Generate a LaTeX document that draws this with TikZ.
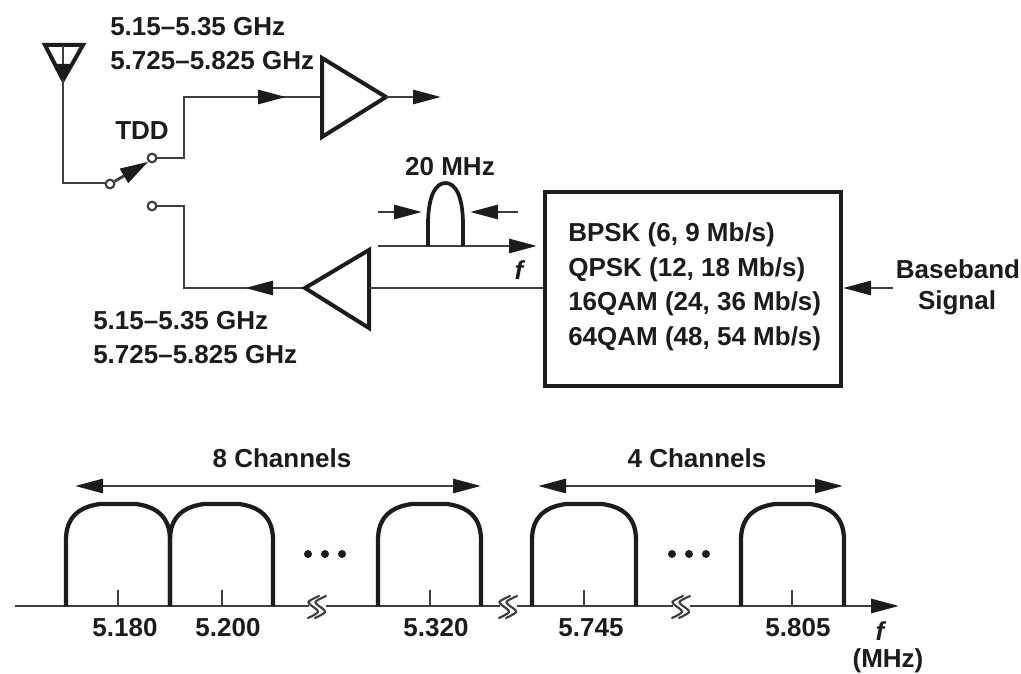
\documentclass[tikz,border=0pt]{standalone}
\usepackage{fontspec}
\setmainfont{Liberation Sans}
\usetikzlibrary{arrows.meta}
\definecolor{ink}{HTML}{1C1C1C}
\tikzset{
  thin line/.style={draw=ink!85,line width=2.2pt,line join=miter},
  thick line/.style={draw=ink,line width=3pt,line join=miter},
  hump/.style={draw=ink,line width=3.2pt},
  tip/.style={-{Triangle[length=21pt,width=10.5pt,fill=ink,color=ink]}},
  label/.style={font=\fontsize{19.5}{22}\bfseries\selectfont,text=ink,inner sep=0pt,anchor=center},
  llabel/.style={label,anchor=west},
  term/.style={circle,draw=ink!85,line width=1.6pt,fill=white,minimum size=6.5pt,inner sep=0pt},
  dot/.style={circle,fill=ink,minimum size=6pt,inner sep=0pt},
  pics/breakmark/.style={code={
    \fill[white] (-7,-3) rectangle (10,3);
    \foreach \d in {-3,4}{
      \draw[draw=ink!85,line width=1.6pt,line cap=round] plot[smooth,tension=0.6] coordinates {(\d+6,-10) (\d-3,-5.5) (\d-4,-2.5) (\d+3,3) (\d+5,6) (\d+1,9) (\d-5,12)};
    }
  }}
}
\newcommand{\humpshape}[4]{% left, right, name
  \coordinate (#3a) at (#1,606);
  \coordinate (#3b) at (#2,606);
  \draw[hump] (#3a) -- (#1,540) .. controls (#1,518) and (#1+12,507) .. (#1+34,504)
     -- (#2-34,504) .. controls (#2-12,507) and (#2,518) .. (#2,540) -- (#3b);
  \coordinate (#3t) at (#4,590);
  \coordinate (#3u) at (#4,606);
  \draw[thin line,line width=1.5pt] (#3t) -- (#3u);
}
\begin{document}
\begin{tikzpicture}[x=0.75pt,y=-0.75pt]
\useasboundingbox (0,0) rectangle (1021,674);
% antenna
\coordinate (antL) at (45,45);
\coordinate (antR) at (83,45);
\coordinate (antA) at (63,80);
\coordinate (antT) at (63,45);
\coordinate (corner) at (63,183);
\draw[thick line] (antL) -- (antR) -- (antA) -- cycle;
\draw[thin line,line join=miter] (antT) -- (corner) -- (107,183);
\fill[ink] (55,64) -- (71,64) -- (63,80) -- cycle;
% switch
\node[term] (sw) at (110,184) {};
\node[term] (tx) at (152,158) {};
\node[term] (rx) at (152,206) {};
\draw[thin line,-{Triangle[length=21pt,width=12pt,fill=ink,color=ink]}] (sw) -- (tx.south west);
\node[label] (tdd) at (142,131) {TDD};
% TX path
\coordinate (c1) at (184,158);
\coordinate (c2) at (184,97);
\coordinate (pa) at (322,97);
\coordinate (pm) at (286,97);
\draw[thin line] (tx.east) -- (c1) -- (c2) -- (pa);
\draw[thin line,tip] (c2) -- (pm);
\coordinate (paT) at (322,58);
\coordinate (paB) at (322,137);
\coordinate (paO) at (386,97);
\coordinate (ant2) at (441,97);
\draw[thick line] (paT) -- (paO) -- (paB) -- cycle;
\draw[thin line,tip] (paO) -- (ant2);
% RX path
\coordinate (c3) at (184,206);
\coordinate (c4) at (184,288);
\coordinate (lnaO) at (305,288);
\coordinate (lnaI) at (369,288);
\coordinate (lnaT) at (369,250);
\coordinate (lnaB) at (369,328);
\coordinate (lm) at (245,288);
\draw[thin line] (rx.east) -- (c3) -- (c4) -- (lnaO);
\draw[thin line,tip] (lnaO) -- (lm);
\draw[thick line] (lnaT) -- (lnaO) -- (lnaB) -- cycle;
% box
\node[thick line,draw,minimum width=222pt,minimum height=145.5pt,inner sep=0pt] (box) at (693,289) {};
\draw[thin line] (lnaI) -- (box.west |- lnaI);
% spectrum
\coordinate (spS) at (378,246);
\coordinate (spE) at (537,246);
\draw[thin line,tip] (spS) -- (spE);
\coordinate (h1) at (428,246);
\coordinate (h2) at (463,246);
\draw[hump,line width=2.8pt] (h1) -- (428,225) .. controls (428,195) and (436,183) .. (445.5,183) .. controls (455,183) and (463,195) .. (463,225) -- (h2);
\coordinate (a1s) at (378,212);
\coordinate (a1e) at (422,212);
\coordinate (a2s) at (518,212);
\coordinate (a2e) at (470,212);
\draw[thin line,tip] (a1s) -- (a1e);
\draw[thin line,tip] (a2s) -- (a2e);
\node[label] (mhz) at (450,167) {20 MHz};
\node[label] (ff1) at (519,270) {\itshape f};
% labels
\node[llabel] (t1) at (110,27) {5.15–5.35 GHz};
\node[llabel] (t2) at (110,61) {5.725–5.825 GHz};
\node[llabel] (t3) at (93,321) {5.15–5.35 GHz};
\node[llabel] (t4) at (93,355) {5.725–5.825 GHz};
\node[llabel] (m1) at (568,235) {BPSK (6, 9 Mb/s)};
\node[llabel] (m2) at (568,270) {QPSK (12, 18 Mb/s)};
\node[llabel] (m3) at (568,304) {16QAM (24, 36 Mb/s)};
\node[llabel] (m4) at (568,339) {64QAM (48, 54 Mb/s)};
\node[label] (bb1) at (958,269) {Baseband};
\node[label] (bb2) at (957,303) {Signal};
\coordinate (bbS) at (893,288);
\draw[thin line,tip] (bbS) -- (box.east |- bbS);
% channels
\node[label] (ch8) at (282,458) {8 Channels};
\node[label] (ch4) at (697,458) {4 Channels};
\coordinate (c8a) at (75,486);
\coordinate (c8b) at (481,486);
\coordinate (c4a) at (538,486);
\coordinate (c4b) at (843,486);
\draw[thin line,{Triangle[length=21pt,width=10.5pt,fill=ink,color=ink]}-{Triangle[length=21pt,width=10.5pt,fill=ink,color=ink]}] (c8a) -- (c8b);
\draw[thin line,{Triangle[length=21pt,width=10.5pt,fill=ink,color=ink]}-{Triangle[length=21pt,width=10.5pt,fill=ink,color=ink]}] (c4a) -- (c4b);
% axis
\coordinate (axS) at (15,606);
\coordinate (axE) at (899,606);
\draw[thin line,tip] (axS) -- (axE);
\humpshape{66}{170}{ha}{118}
\humpshape{170}{273}{hb}{222}
\humpshape{378}{481}{hc}{430}
\humpshape{532}{636}{hd}{584}
\humpshape{741}{844}{he}{792}
\pic at (316,606) {breakmark};
\pic at (507,606) {breakmark};
\pic at (680,606) {breakmark};
\node[dot] (d1) at (308,554) {};
\node[dot] (d2) at (325,554) {};
\node[dot] (d3) at (342,554) {};
\node[dot] (d4) at (672,554) {};
\node[dot] (d5) at (689,554) {};
\node[dot] (d6) at (706,554) {};
\node[label] (f1) at (125,628) {5.180};
\node[label] (f2) at (228,628) {5.200};
\node[label] (f3) at (436,628) {5.320};
\node[label] (f4) at (591,628) {5.745};
\node[label] (f5) at (798,628) {5.805};
\node[label] (ff2) at (880,631) {\itshape f};
\node[label] (unit) at (888,661) {(MHz)};
\end{tikzpicture}
\end{document}
